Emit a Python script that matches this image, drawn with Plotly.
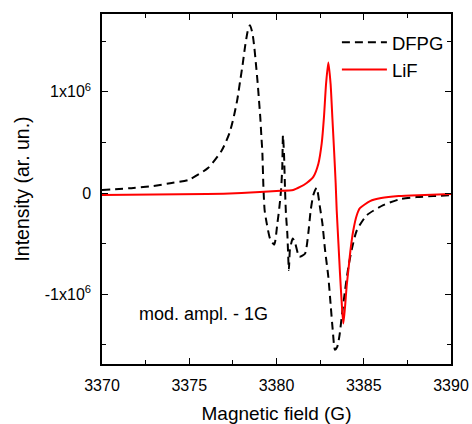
import numpy as np
import plotly.graph_objects as go

# DFPG (dashed black), intensity in units of 1e6
dfpg_x = [3370.0, 3371.8, 3372.94, 3374.0, 3374.95, 3376.09, 3376.86, 3377.30, 3377.56, 3377.76,
          3377.91, 3378.06, 3378.2, 3378.35, 3378.48, 3378.62, 3378.73, 3378.83, 3378.92, 3379.0,
          3379.07, 3379.13, 3379.19, 3379.25, 3379.32, 3379.44, 3379.63, 3379.87, 3380.05, 3380.16,
          3380.26, 3380.33, 3380.37, 3380.43, 3380.49, 3380.54, 3380.62, 3380.71, 3380.77, 3380.93,
          3381.06, 3381.31, 3381.63, 3381.82, 3381.96, 3382.11, 3382.30, 3382.49, 3382.63, 3382.78,
          3382.97, 3383.11, 3383.22, 3383.35, 3383.48, 3383.60, 3383.74, 3383.93, 3384.12, 3384.31,
          3384.60, 3385.17, 3386.12, 3387.08, 3388.03, 3388.99, 3390.0]
dfpg_y = [0.03, 0.05, 0.07, 0.10, 0.13, 0.25, 0.42, 0.59, 0.76, 0.93,
          1.10, 1.27, 1.45, 1.60, 1.66, 1.58, 1.44, 1.26, 1.09, 0.91,
          0.75, 0.57, 0.40, 0.06, -0.17, -0.30, -0.45, -0.51, -0.30, -0.15,
          0.03, 0.25, 0.57, 0.39, 0.03, -0.20, -0.40, -0.76, -0.56, -0.45,
          -0.49, -0.63, -0.60, -0.40, -0.17, -0.02, 0.05, -0.14, -0.30, -0.56,
          -0.83, -1.12, -1.35, -1.55, -1.52, -1.42, -1.22, -0.96, -0.73, -0.56,
          -0.37, -0.22, -0.12, -0.06, -0.04, -0.03, -0.02]

# LiF (solid red)
lif_x = [3370.0, 3373.0, 3376.0, 3378.0, 3379.05, 3380.0, 3380.96, 3381.35, 3381.73, 3382.11,
         3382.40, 3382.59, 3382.72, 3382.84, 3382.97, 3383.10, 3383.20, 3383.30, 3383.39, 3383.45,
         3383.55, 3383.64, 3383.75, 3383.83, 3383.93, 3384.02, 3384.12, 3384.25, 3384.40, 3384.60,
         3384.78, 3385.36, 3386.0, 3387.0, 3388.5, 3390.0]
lif_y = [-0.02, -0.015, -0.01, 0.0, 0.01, 0.02, 0.03, 0.06, 0.10, 0.16,
         0.29, 0.49, 0.75, 1.08, 1.29, 1.08, 0.75, 0.42, 0.10, -0.17,
         -0.50, -0.80, -1.12, -1.29, -1.12, -0.92, -0.76, -0.55, -0.37, -0.22,
         -0.15, -0.08, -0.05, -0.03, -0.02, -0.01]

scale = 1e6
x_ticks = [3370, 3375, 3380, 3385, 3390]
y_tickvals = [-1e6, 0, 1e6]
y_ticktext = ["-1x10<sup>6</sup>", "0", "1x10<sup>6</sup>"]

font = "Liberation Sans, Arial, sans-serif"

fig = go.Figure()
fig.add_trace(go.Scatter(x=dfpg_x, y=np.array(dfpg_y) * scale, mode="lines", name="DFPG",
                         line=dict(color="black", width=2, dash="8px,5px", shape="spline", smoothing=0.6)))
fig.add_trace(go.Scatter(x=lif_x, y=np.array(lif_y) * scale, mode="lines", name="LiF",
                         line=dict(color="#ff0000", width=2, shape="spline", smoothing=0.6)))

axis_common = dict(showgrid=False, zeroline=False, showline=True, linecolor="black", linewidth=1.5,
                   mirror="ticks", ticks="inside", tickcolor="black", tickwidth=1.2, ticklen=6,
                   tickfont=dict(family=font, size=16, color="black"))

fig.update_xaxes(range=[3370, 3390], tickvals=x_ticks, ticklabelstandoff=6,
                 minor=dict(dtick=2.5, ticks="inside", ticklen=4, tickcolor="black", tickwidth=1.2),
                 title=dict(text="Magnetic field (G)", font=dict(family=font, size=19, color="black"), standoff=27),
                 **axis_common)
fig.update_yaxes(range=[-1.69e6, 1.77e6], tickvals=y_tickvals, ticktext=y_ticktext, ticklabelstandoff=6,
                 minor=dict(dtick=0.5e6, ticks="inside", ticklen=4, tickcolor="black", tickwidth=1.2),
                 title=dict(text="Intensity (ar. un.)", font=dict(family=font, size=19.5, color="black"), standoff=10),
                 **axis_common)

fig.add_annotation(x=3371.99, y=-1.20e6, text="mod. ampl. - 1G", showarrow=False,
                   xanchor="left", yanchor="middle", font=dict(family=font, size=18, color="black"))

fig.update_layout(
    width=472, height=424,
    margin=dict(l=102, r=21, t=14, b=60, autoexpand=False),
    plot_bgcolor="white", paper_bgcolor="white",
    font=dict(family=font, color="black"),
    legend=dict(x=0.994, xanchor="right", y=0.972, yanchor="top", bgcolor="rgba(0,0,0,0)",
                font=dict(family=font, size=18.5, color="black"), itemwidth=45),
)

# remove the default page margin so the 472x424 figure fills the window exactly
fig.write_html("out.html", config={"displayModeBar": False},
               post_script="document.body.style.margin='0';document.body.style.overflow='hidden';")
